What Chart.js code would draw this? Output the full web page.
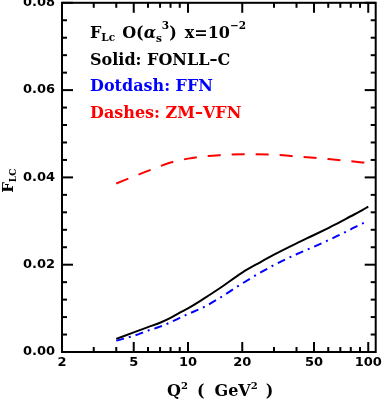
<!DOCTYPE html>
<html lang="en">
<head>
  <meta charset="UTF-8">
  <title>FLc O(as^3) x=1e-2</title>
  <script src="https://cdn.jsdelivr.net/npm/chart.js"></script>
  <style>
    html, body {
      margin: 0;
      padding: 0;
      background: #ffffff;
      overflow: hidden;
    }
    .chart-box {
      position: relative;
      width: 385px;
      height: 413px;
      margin-top: -12px;
    }
  </style>
</head>
<body>

<div class="chart-box">
  <canvas id="flcChart"></canvas>
</div>

<script>
  // Q^2 grid (GeV^2) and F_Lc values
  const q2Fonll = [4, 5, 6, 7, 8, 9, 10, 12, 15, 20, 25, 30, 40, 50, 60, 70, 80, 90, 100];
  const fonllC  = [0.0030, 0.0045, 0.0057, 0.0067, 0.0078, 0.0090, 0.0100, 0.0120, 0.0146, 0.0182, 0.0205, 0.0223, 0.0249, 0.0268, 0.0284, 0.0298, 0.0311, 0.0322, 0.0333];

  const q2Ffn = [4, 5, 6, 7, 8, 9, 10, 12, 15, 20, 25, 30, 40, 50, 60, 70, 80, 90, 100];
  const ffn   = [0.0026, 0.0037, 0.0049, 0.0058, 0.0068, 0.0078, 0.0087, 0.0101, 0.0124, 0.0157, 0.0181, 0.0199, 0.0224, 0.0241, 0.0256, 0.0269, 0.0281, 0.0292, 0.0300];

  const q2Zm  = [4, 5, 6, 8, 10, 12, 15, 20, 30, 40, 50, 60, 80, 100];
  const zmVfn = [0.0386, 0.0402, 0.0415, 0.0434, 0.0443, 0.0448, 0.0451, 0.0453, 0.0452, 0.0448, 0.0445, 0.0442, 0.0437, 0.0433];

  const xMajorTicks = [2, 5, 10, 20, 50, 100];
  const xMinorTicks = [3, 4, 6, 7, 8, 9, 30, 40, 60, 70, 80, 90];
  const yMajorTicks = [0, 0.02, 0.04, 0.06, 0.08];
  const yMinorStep = 0.004;

  const toPoints = (xs, ys) => xs.map((x, i) => ({ x: x, y: ys[i] }));

  // frame with inward ticks on all four sides, plus the text labels
  const framePlugin = {
    id: 'frameTicks',
    afterDatasetsDraw(chart) {
      const ctx = chart.ctx;
      const a = chart.chartArea;
      const xs = chart.scales.x;
      const ys = chart.scales.y;
      ctx.save();
      ctx.strokeStyle = '#000';
      ctx.lineWidth = 2;
      ctx.strokeRect(a.left, a.top, a.right - a.left, a.bottom - a.top);

      const tick = (x1, y1, x2, y2) => {
        ctx.beginPath();
        ctx.moveTo(x1, y1);
        ctx.lineTo(x2, y2);
        ctx.stroke();
      };
      xMajorTicks.forEach(v => {
        const px = xs.getPixelForValue(v);
        tick(px, a.bottom, px, a.bottom - 10);
        tick(px, a.top, px, a.top + 10);
      });
      xMinorTicks.forEach(v => {
        const px = xs.getPixelForValue(v);
        tick(px, a.bottom, px, a.bottom - 5);
        tick(px, a.top, px, a.top + 5);
      });
      for (let k = 0; k <= 20; k++) {
        const v = k * yMinorStep;
        const py = ys.getPixelForValue(v);
        const major = yMajorTicks.some(m => Math.abs(m - v) < 1e-9);
        const len = major ? 11 : 5;
        tick(a.left, py, a.left + len, py);
        tick(a.right, py, a.right - len, py);
      }

      // annotation block
      const serif = '"DejaVu Serif", serif';
      const big = 'bold 16px ' + serif;
      const small = 'bold 10.5px ' + serif;
      const x0 = 90;
      let x = x0;
      const put = (txt, font, dy, color) => {
        ctx.font = font;
        ctx.fillStyle = color || '#000';
        ctx.fillText(txt, x, 50 + dy);
        x += ctx.measureText(txt).width;
      };
      ctx.textBaseline = 'alphabetic';
      ctx.textAlign = 'left';
      put('F', big, 0);
      put('Lc', small, 3);
      x += 7;
      put('O(', big, 0);
      put('\u03B1', 'italic ' + big, 0);
      put('s', small, 4);
      put('3', small, -9);
      put(')', big, 0);
      x += 8;
      put('x=10', big, 0);
      put('\u22122', small, -9);

      ctx.font = big;
      ctx.fillStyle = '#000';
      ctx.fillText('Solid: FONLL\u2013C', x0, 76.5);
      ctx.fillStyle = '#0000ff';
      ctx.fillText('Dotdash: FFN', x0, 103);
      ctx.fillStyle = '#ff0000';
      ctx.fillText('Dashes: ZM\u2013VFN', x0, 130);

      // x axis title
      const titleFont = 'bold 16px ' + serif;
      const supFont = 'bold 10px ' + serif;
      x = 167;
      const baseX = a.bottom + 44;
      const putT = (txt, font, dy) => {
        ctx.font = font;
        ctx.fillStyle = '#000';
        ctx.fillText(txt, x, baseX + dy);
        x += ctx.measureText(txt).width;
      };
      putT('Q', titleFont, 0);
      putT('2', supFont, -7);
      x += 9;
      putT('(', titleFont, 0);
      x += 10;
      putT('GeV', titleFont, 0);
      putT('2', supFont, -7);
      x += 8;
      putT(')', titleFont, 0);

      // y axis title, rotated
      ctx.translate(13, a.top + 190);
      ctx.rotate(-Math.PI / 2);
      ctx.font = 'bold 15px ' + serif;
      ctx.fillText('F', 0, 0);
      x = ctx.measureText('F').width;
      ctx.font = 'bold 9px ' + serif;
      ctx.fillText('LC', x, 3);
      ctx.restore();
    }
  };

  document.addEventListener('DOMContentLoaded', function () {
    const ctx = document.getElementById('flcChart').getContext('2d');
    new Chart(ctx, {
      type: 'line',
      data: {
        datasets: [
          {
            label: 'FONLL-C',
            data: toPoints(q2Fonll, fonllC),
            borderColor: '#000000',
            borderWidth: 2,
            pointRadius: 0,
            cubicInterpolationMode: 'monotone',
            fill: false
          },
          {
            label: 'FFN',
            data: toPoints(q2Ffn, ffn),
            borderColor: '#0000ff',
            borderWidth: 2,
            borderDash: [8, 5, 2, 5],
            pointRadius: 0,
            cubicInterpolationMode: 'monotone',
            fill: false
          },
          {
            label: 'ZM-VFN',
            data: toPoints(q2Zm, zmVfn),
            borderColor: '#ff0000',
            borderWidth: 2,
            borderDash: [13, 11],
            pointRadius: 0,
            cubicInterpolationMode: 'monotone',
            fill: false
          }
        ]
      },
      options: {
        responsive: true,
        maintainAspectRatio: false,
        animation: false,
        layout: {
          padding: { top: 12, right: 8, left: 0, bottom: 0 }
        },
        plugins: {
          legend: { display: false },
          tooltip: { enabled: false }
        },
        scales: {
          x: {
            type: 'logarithmic',
            min: 2,
            max: 110,
            grid: { display: false, drawTicks: false },
            border: { display: false },
            afterBuildTicks: axis => {
              axis.ticks = xMajorTicks.map(v => ({ value: v }));
            },
            afterFit: scale => { scale.height = 49; },
            ticks: {
              autoSkip: false,
              maxRotation: 0,
              padding: 3,
              color: '#000',
              font: { family: '"DejaVu Sans", sans-serif', size: 13, weight: 'bold' },
              callback: v => String(v)
            }
          },
          y: {
            min: 0,
            max: 0.08,
            grid: { display: false, drawTicks: false },
            border: { display: false },
            afterBuildTicks: axis => {
              axis.ticks = yMajorTicks.map(v => ({ value: v }));
            },
            afterFit: scale => { scale.width = 62; },
            ticks: {
              padding: 7,
              color: '#000',
              font: { family: '"DejaVu Sans", sans-serif', size: 13, weight: 'bold' },
              callback: v => v.toFixed(2)
            }
          }
        }
      },
      plugins: [framePlugin]
    });
  });
</script>

</body>
</html>
